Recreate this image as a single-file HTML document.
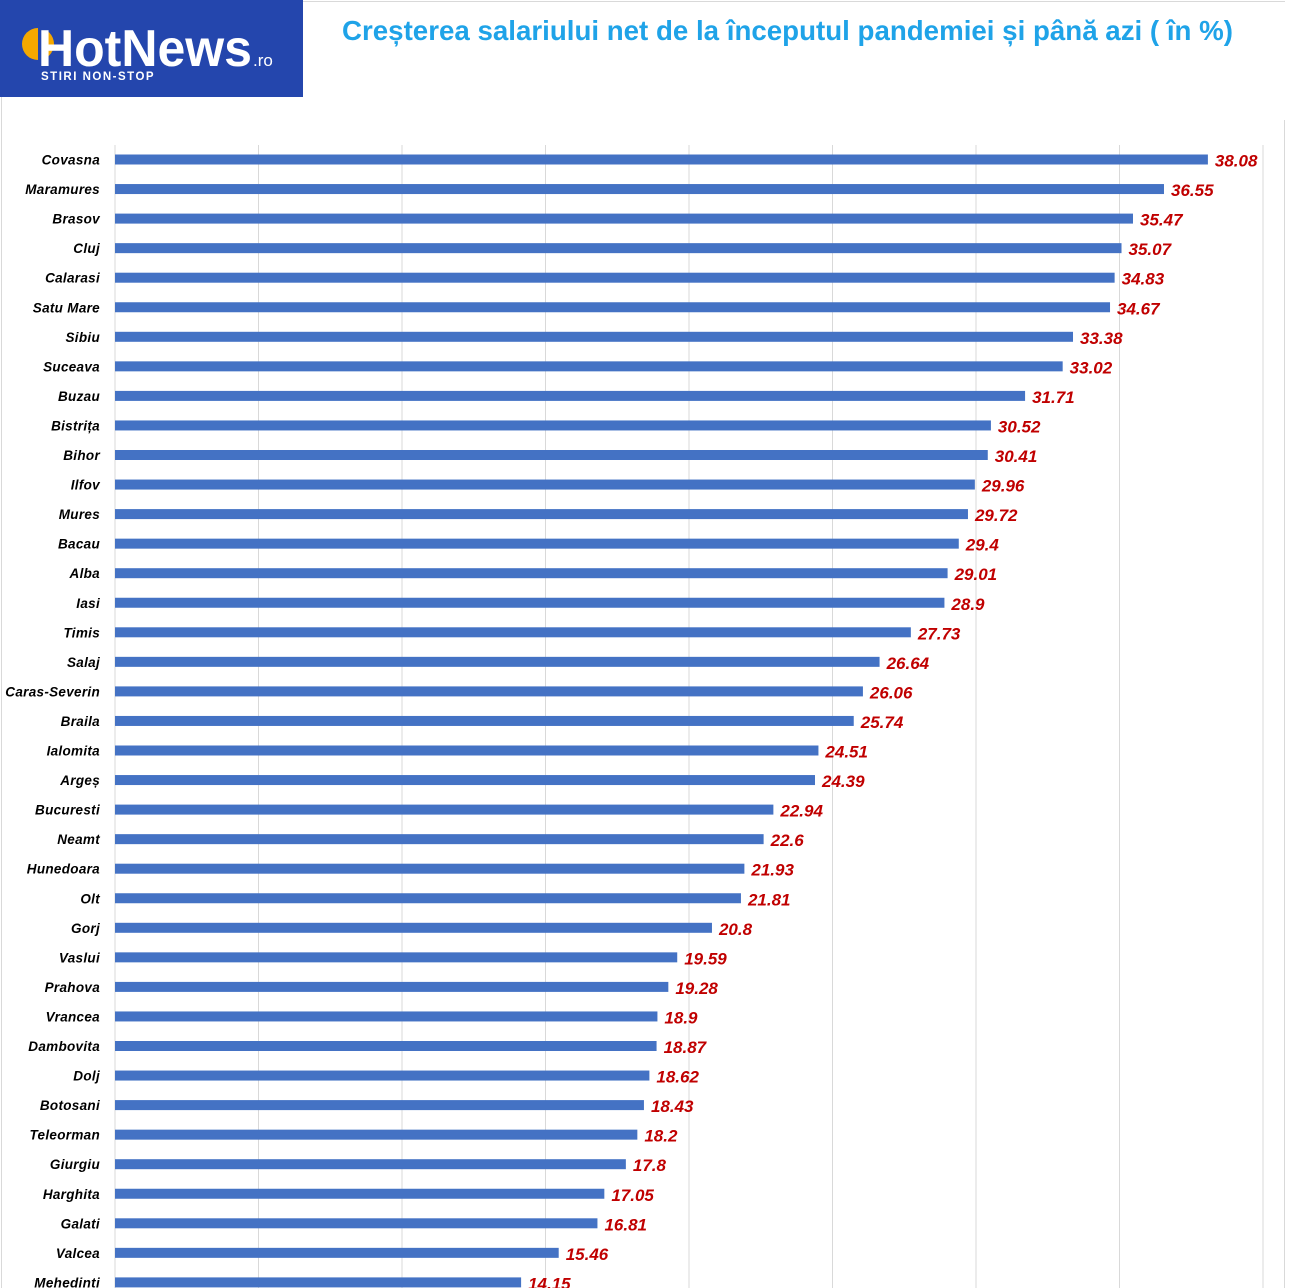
<!DOCTYPE html>
<html><head><meta charset="utf-8"><style>
body{margin:0;width:1292px;height:1288px;background:#fff;overflow:hidden;position:relative;font-family:"Liberation Sans",sans-serif}
</style></head><body>
<div style="position:absolute;left:303px;top:1px;width:982px;height:1px;background:#d9d9d9"></div>
<div style="position:absolute;left:1284px;top:120px;width:1px;height:1168px;background:#d9d9d9"></div>
<div style="position:absolute;left:1px;top:97px;width:1px;height:1191px;background:#d9d9d9"></div>
<div style="position:absolute;left:0;top:0;width:303px;height:97px;background:#2446ad"></div>
<svg style="position:absolute;left:0;top:0" width="303" height="97">
<circle cx="38" cy="44" r="16" fill="#f5a800"/>
<rect x="38" y="20" width="10" height="50" fill="#2446ad"/>
<text x="38" y="66" fill="#fff" font-family="Liberation Sans" font-size="52" font-weight="bold" textLength="214" lengthAdjust="spacingAndGlyphs">HotNews</text>
<text x="253" y="66" fill="#fff" font-family="Liberation Sans" font-size="17">.ro</text>
<text x="41" y="80" fill="#fff" font-family="Liberation Sans" font-size="11.5" font-weight="bold" letter-spacing="1.5">STIRI NON-STOP</text>
</svg>
<svg style="position:absolute;left:0;top:0" width="1292" height="60"><text x="342" y="40" font-family="Liberation Sans" font-size="27.5" font-weight="bold" fill="#1fa3e8" textLength="891" lengthAdjust="spacingAndGlyphs">Creșterea salariului net de la începutul pandemiei și până azi ( în %)</text></svg>
<svg id="c" style="position:absolute;left:0;top:0" width="1292" height="1288"></svg>
<script>
const d=[["Covasna",38.08],["Maramures",36.55],["Brasov",35.47],["Cluj",35.07],["Calarasi",34.83],["Satu Mare",34.67],["Sibiu",33.38],["Suceava",33.02],["Buzau",31.71],["Bistrița",30.52],["Bihor",30.41],["Ilfov",29.96],["Mures",29.72],["Bacau",29.4],["Alba",29.01],["Iasi",28.9],["Timis",27.73],["Salaj",26.64],["Caras-Severin",26.06],["Braila",25.74],["Ialomita",24.51],["Argeș",24.39],["Bucuresti",22.94],["Neamt",22.6],["Hunedoara",21.93],["Olt",21.81],["Gorj",20.8],["Vaslui",19.59],["Prahova",19.28],["Vrancea",18.9],["Dambovita",18.87],["Dolj",18.62],["Botosani",18.43],["Teleorman",18.2],["Giurgiu",17.8],["Harghita",17.05],["Galati",16.81],["Valcea",15.46],["Mehedinti",14.15]];
let s='';const x0=115,k=28.7;
for(let i=0;i<9;i++){const x=115+i*143.5;s+=`<rect x="${x-0.5}" y="145" width="1" height="1143" fill="#d9d9d9"/>`;}
d.forEach((r,i)=>{const y=159.5+i*29.55,w=r[1]*k;
s+=`<rect x="${x0}" y="${y-5}" width="${w}" height="10" fill="#4472c4"/>`;
s+=`<text x="100" y="${y+5}" text-anchor="end" font-family="Liberation Sans" font-size="13.5" font-weight="bold" font-style="italic" letter-spacing="0.3" fill="#000">${r[0]}</text>`;
s+=`<text x="${x0+w+7}" y="${y+7}" font-family="Liberation Sans" font-size="17" font-weight="bold" font-style="italic" fill="#c00000">${r[1]}</text>`;});
document.getElementById('c').innerHTML=s;
</script>
</body></html>
